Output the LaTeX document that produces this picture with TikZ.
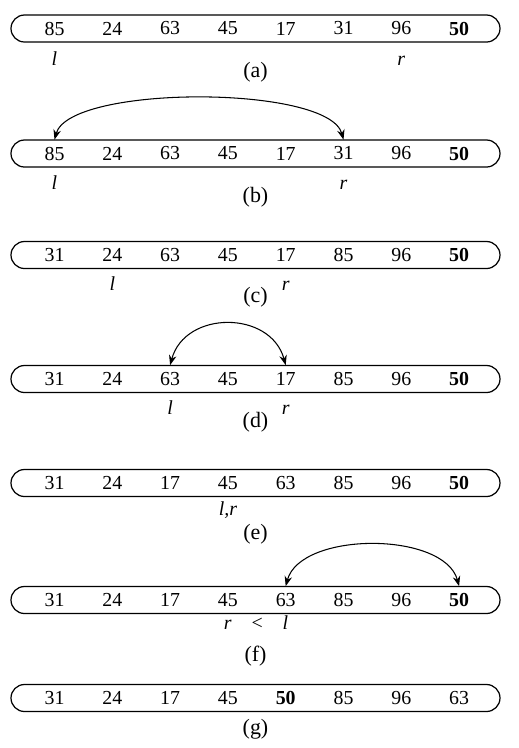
\documentclass[tikz,border=0pt]{standalone}
\usepackage{fontspec}
\setmainfont{Liberation Serif}
\usetikzlibrary{arrows.meta,positioning}

\begin{document}
\begin{tikzpicture}[x=0.2mm,y=0.2mm,>={Stealth[length=2mm,width=1.5mm]}]
\tikzstyle{bar}=[draw,line width=.7pt,rounded corners=2.7mm,minimum width=97.8mm,minimum height=5.4mm,inner sep=0pt]
\tikzstyle{cell}=[minimum height=5.4mm,inner sep=0pt,font=\fontsize{11.3}{13}\selectfont]
\tikzstyle{ptr}=[anchor=base,inner sep=0pt,font=\fontsize{11.3}{13}\selectfont\itshape]
\tikzstyle{caption}=[font=\fontsize{12.5}{15}\selectfont]
\tikzstyle{swap}=[<->,line width=.6pt]
\useasboundingbox (0,0) rectangle (519,-748);
% one row per step of the partition
\foreach \row/\y/\cy/\vals in {
  a/28.5/72/{85,24,63,45,17,31,96,\textbf{50}},
  b/153.5/197/{85,24,63,45,17,31,96,\textbf{50}},
  c/255/297/{31,24,63,45,17,85,96,\textbf{50}},
  d/379/422/{31,24,63,45,17,85,96,\textbf{50}},
  e/483/534/{31,24,17,45,63,85,96,\textbf{50}},
  f/600/656/{31,24,17,45,63,85,96,\textbf{50}},
  g/698/729/{31,24,17,45,\textbf{50},85,96,63}}{
  \node[bar] (bar\row) at (255.5,-\y) {};
  \foreach \v [count=\i] in \vals {\node[cell] (\row\i) at ({54.5+57.8*(\i-1)},-\y) {\v};}
  \node[caption] (cap\row) at (255.5,-\cy) {(\row)};
}
% pointers
\node[ptr] (la) at (a1 |- 0,-65) {l};
\node[ptr] (ra) at (a7 |- 0,-65) {r};
\node[ptr] (lb) at (b1 |- 0,-189) {l};
\node[ptr] (rb) at (b6 |- 0,-189) {r};
\node[ptr] (lc) at (c2 |- 0,-290) {l};
\node[ptr] (rc) at (c5 |- 0,-290) {r};
\node[ptr] (ld) at (d3 |- 0,-414) {l};
\node[ptr] (rd) at (d5 |- 0,-414) {r};
\node[ptr] (lre) at (e4 |- 0,-515) {l,r};
\node[ptr] (rlf) at (256,-629) {r\quad\upshape{<}\quad\itshape l};
% swaps
\draw[swap] (b1.north) .. controls +(15,55) and +(-15,55) .. (b6.north);
\draw[swap] (d3.north) .. controls +(15,55) and +(-15,55) .. (d5.north);
\draw[swap] (f5.north) .. controls +(15,55) and +(-15,55) .. (f8.north);
\end{tikzpicture}
\end{document}
